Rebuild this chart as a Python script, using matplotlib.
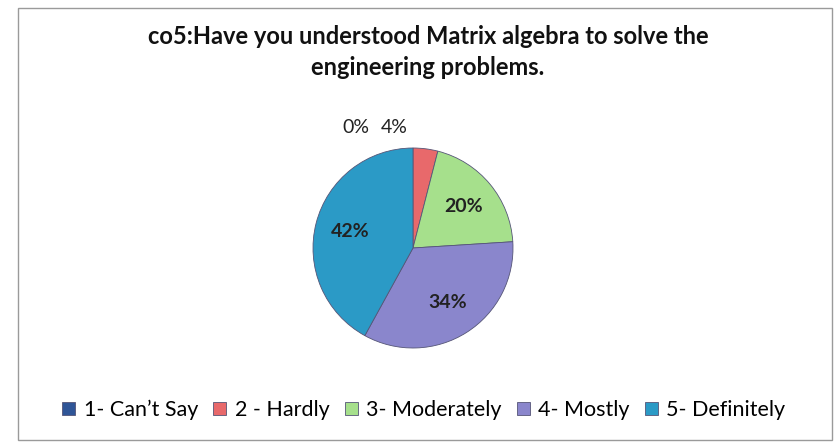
import matplotlib.pyplot as plt
from matplotlib.patches import Rectangle

# 数据
categories = ["1- Can\u2019t Say", "2 - Hardly", "3- Moderately", "4- Mostly", "5- Definitely"]
counts = [0, 2, 10, 17, 21]
colors = ["#2F5597", "#E8696B", "#A6E08C", "#8A86CC", "#2B9AC6"]
title = "co5:Have you understood Matrix algebra to solve the\nengineering problems."

plt.rcParams['font.family'] = ['Lato', 'DejaVu Sans']

W, H = 834, 443
fig = plt.figure(figsize=(W / 100, H / 100), dpi=100)
fig.patch.set_facecolor("white")

# 图表外框
fig.add_artist(Rectangle((18 / W, 3 / H), 814 / W, 432 / H, transform=fig.transFigure,
                         fill=False, edgecolor="#9a9a9a", linewidth=1.0))

cx, cy, r = 413, 248, 100
ax = fig.add_axes([(cx - r) / W, (H - cy - r) / H, 2 * r / W, 2 * r / H])

wedges, texts, autotexts = ax.pie(
    counts, colors=colors, startangle=90, counterclock=False,
    autopct=lambda p: f"{p:.0f}%", pctdistance=0.65,
    wedgeprops=dict(edgecolor="#555577", linewidth=0.6),
    textprops=dict(fontsize=14, color="#222222"),
)
ax.set_xlim(-1, 1)
ax.set_ylim(-1, 1)
ax.set_aspect("equal")
ax.axis("off")

# 小扇区标签放到饼图外侧上方
autotexts[0].set_position((-0.57, 1.21))
autotexts[1].set_position((-0.19, 1.21))
for t in autotexts[:2]:
    t.set_ha("center")
    t.set_va("center")
for t in autotexts[2:]:
    t.set_fontweight("bold")

fig.text(428 / W, 1 - 52 / H, title, ha="center", va="center",
         fontsize=17, fontweight="bold", color="#111111", linespacing=1.45)

leg = fig.legend(wedges, categories, loc="center", bbox_to_anchor=(424 / W, 1 - 410 / H),
                 ncol=5, frameon=False, fontsize=15.5, handlelength=0.6, handleheight=0.6,
                 handletextpad=0.4, columnspacing=0.7)

fig.savefig("out.png", dpi=100, facecolor="white")
